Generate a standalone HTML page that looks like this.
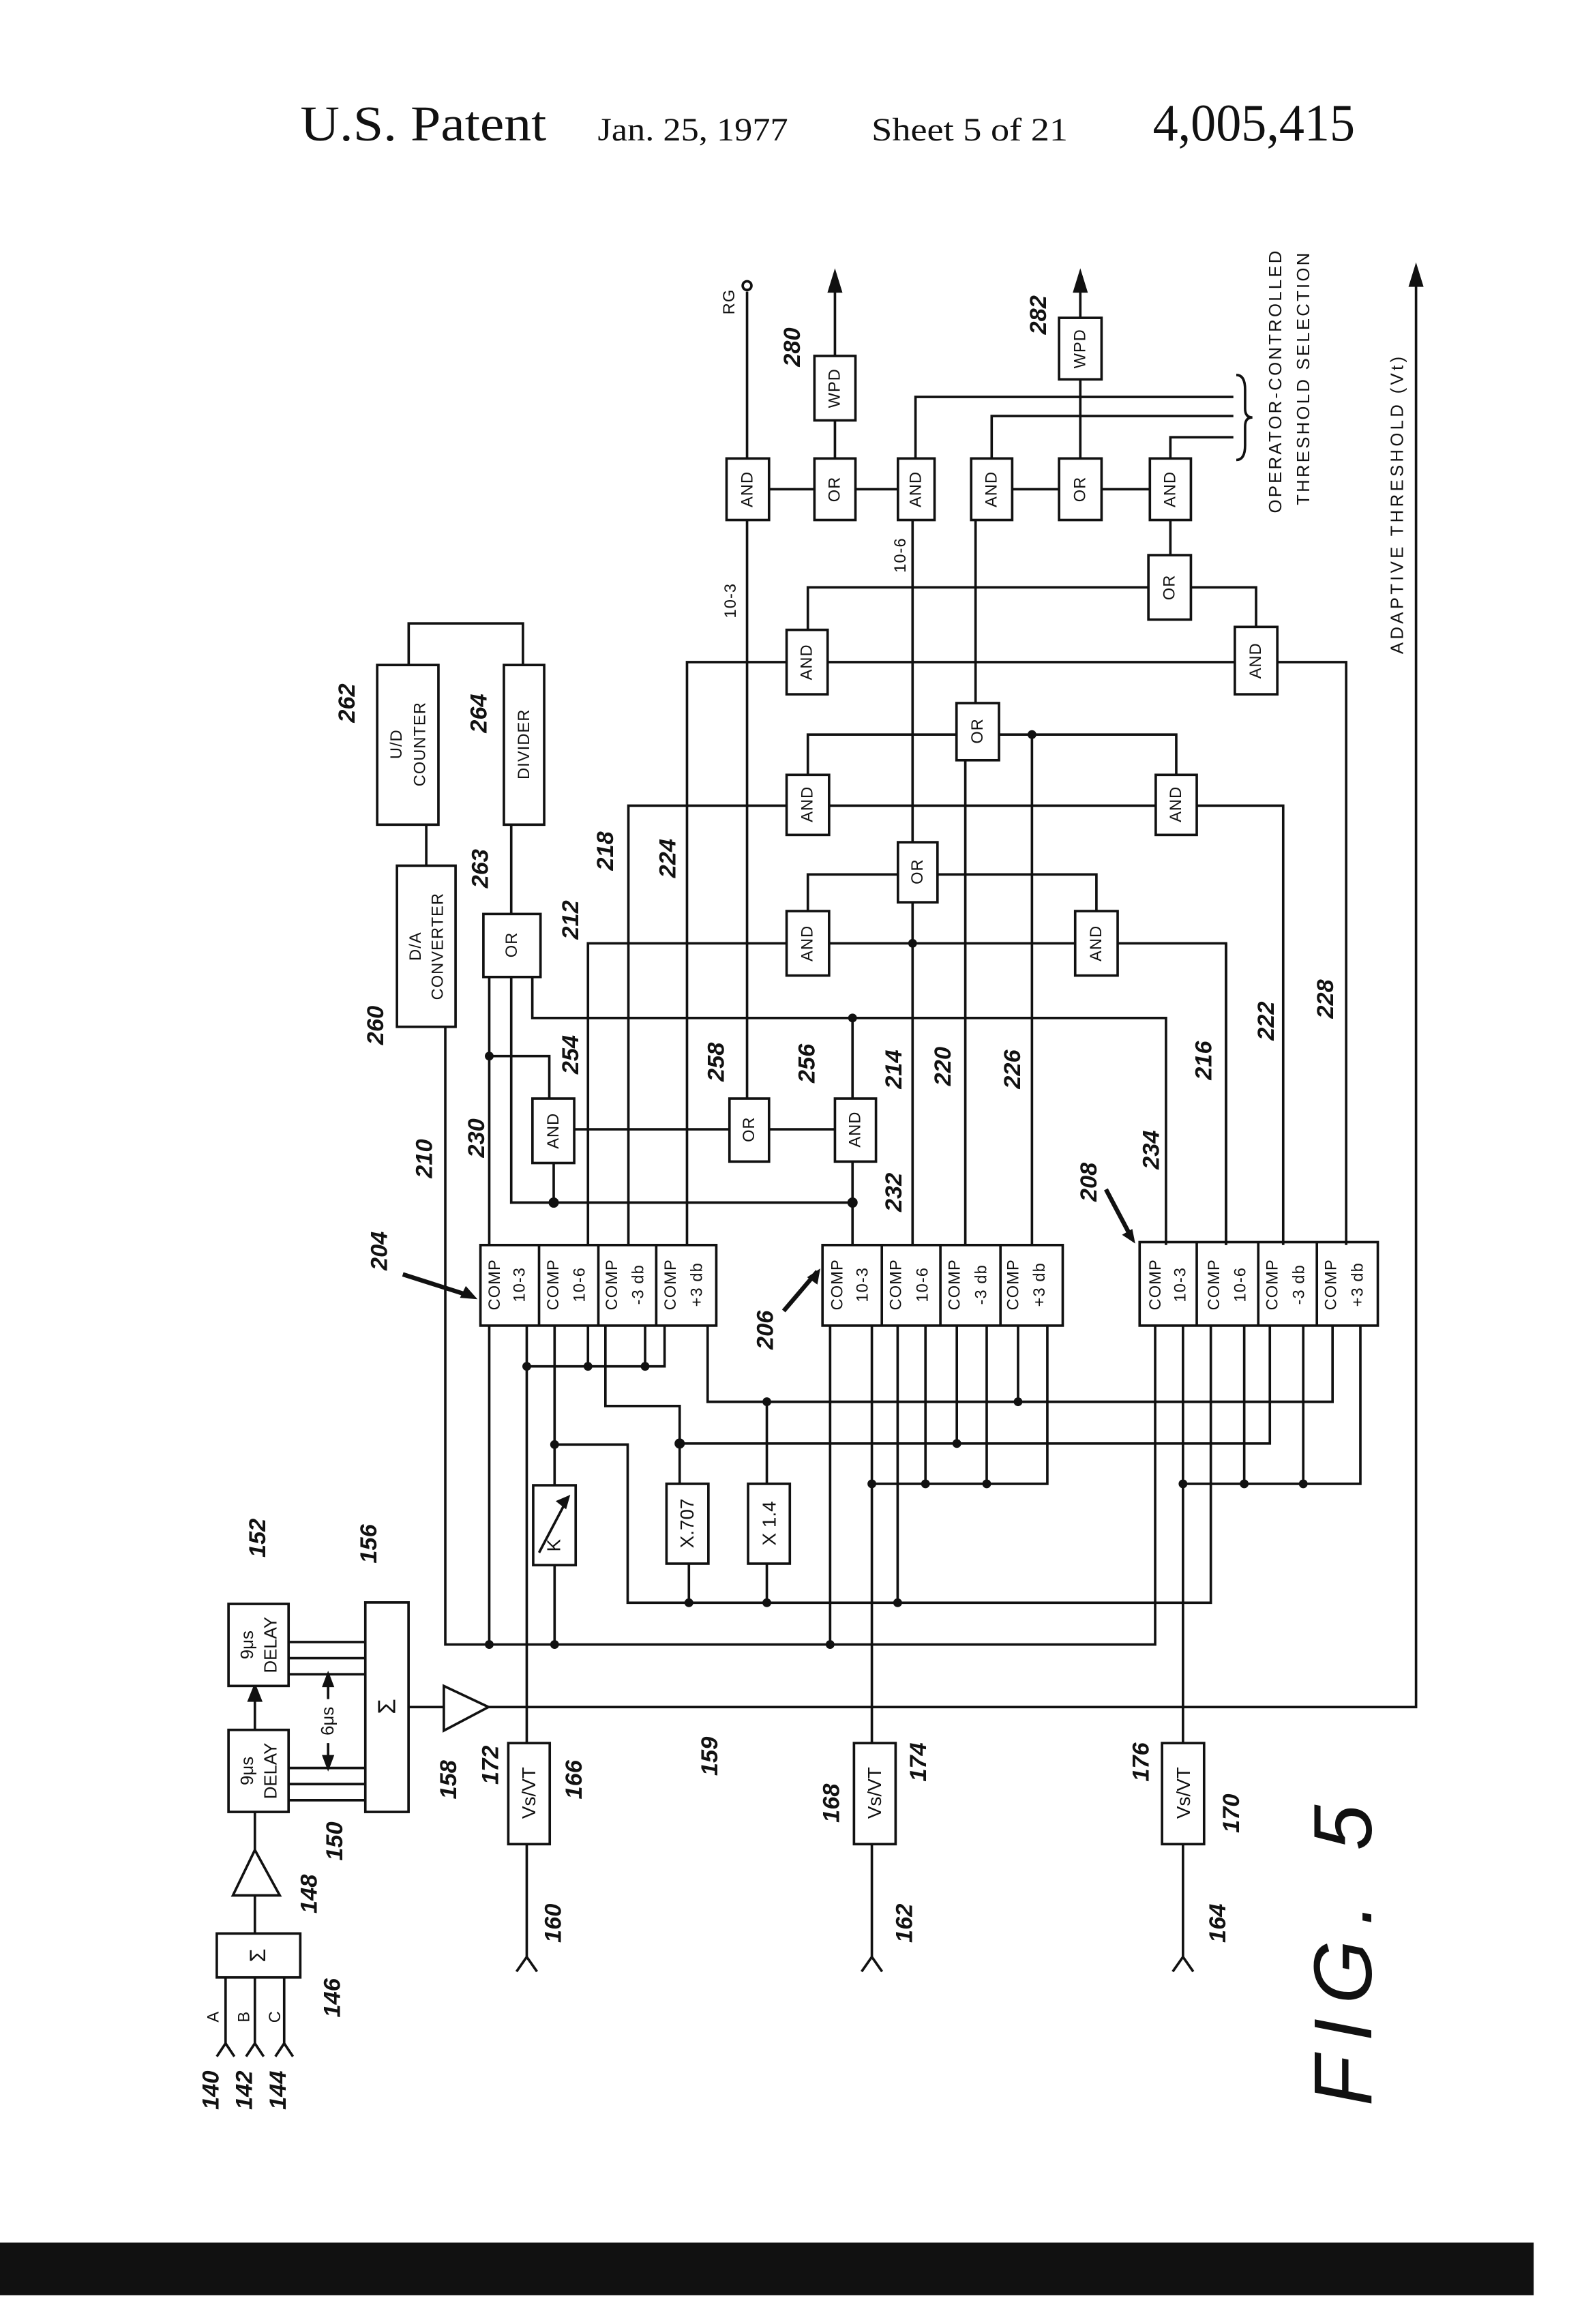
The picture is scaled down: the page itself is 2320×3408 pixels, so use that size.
<!DOCTYPE html>
<html><head><meta charset="utf-8"><style>
html,body{margin:0;padding:0;background:#fff;}
svg{display:block;}
text{font-family:"Liberation Sans",sans-serif;fill:#111;}
.s{font-family:"Liberation Serif",serif;}
</style></head><body>
<svg width="2320" height="3408" viewBox="0 0 1080 1586.6" preserveAspectRatio="none" xmlns="http://www.w3.org/2000/svg">
<g stroke="#111" stroke-width="1.7" fill="none">
<!-- inputs -->
<path d="M154 1350V1395M174 1350V1395M194 1350V1395"/>
<path d="M148 1404l6-9 6 9M168 1404l6-9 6 9M188 1404l6-9 6 9"/>
<rect x="148" y="1320" width="57" height="30" fill="#fff"/>
<path d="M174 1320V1294"/>
<polygon points="159,1294 191,1294 174,1263" fill="#fff"/>
<path d="M174 1263V1237"/>
<rect x="156" y="1181" width="41" height="56" fill="#fff"/>
<path d="M174 1181V1151"/>
<path d="M174 1151l-4 10h8z" fill="#111"/>
<rect x="156" y="1095" width="41" height="56" fill="#fff"/>
<path d="M197 1121H250M197 1132H250M197 1143H250M197 1207H250M197 1218H250M197 1229H250"/>
<path d="M224 1160V1143M224 1190V1207"/>
<path d="M224 1143l-3 8h6zM224 1207l-3 -8h6z" fill="#111"/>
<rect x="249.4" y="1094" width="29.5" height="143" fill="#fff"/>
<path d="M279 1165.4H303"/>
<polygon points="303,1151 303,1181.5 333.5,1165.4" fill="#fff"/>
<path d="M333.5 1165.4H966.7V192"/>
<path d="M966.7 182l-4 13h8z" fill="#111"/>
<!-- receivers -->
<path d="M359.6 905V1190M359.6 1259V1336M352.6 1346l7-10 7 10"/>
<rect x="347" y="1190" width="28.3" height="69" fill="#fff"/>
<path d="M595.2 905V1190M595.2 1259V1336M588.2 1346l7-10 7 10"/>
<rect x="583" y="1190" width="28.4" height="69" fill="#fff"/>
<path d="M807.6 905V1190M807.6 1259V1336M800.6 1346l7-10 7 10"/>
<rect x="793.3" y="1190" width="28.7" height="69" fill="#fff"/>
<!-- line 210 bus -->
<path d="M304 701V1122.7H788.6V905M334 905V1122.7M378.6 905V1122.7M566.7 905V1122.7"/>
<rect x="364" y="1014" width="29" height="54.5" fill="#fff"/>
<path d="M368 1060L388 1022"/>
<path d="M388 1022l-7 3 5 4z" fill="#111"/>
<!-- 1094 bus -->
<path d="M378.6 986.2H428.5V1094.2H826.6V905M612.8 905V1094.2M470.3 1067.5V1094.2M523.5 1067.5V1094.2"/>
<rect x="455" y="1013" width="28.6" height="54.5" fill="#fff"/>
<rect x="510.7" y="1013" width="28.5" height="54.5" fill="#fff"/>
<!-- 985 bus -->
<path d="M464 1013V985.5H866.9V905M413.3 905V959.9H464V985.5M653.2 905V985.5"/>
<!-- 957 bus -->
<path d="M483.1 905V957H909.7V905M523.5 1013V957M695 905V957"/>
<!-- 932 bus -->
<path d="M359.6 932.8H453.7V905M401.4 905V932.8M440.4 905V932.8"/>
<!-- 1013 buses -->
<path d="M595.2 1013H715V905M631.8 905V1013M673.6 905V1013M807.6 1013H928.7V905M849.4 905V1013M889.7 905V1013"/>
<!-- comp blocks -->
<rect x="328" y="850" width="161" height="55" fill="#fff"/>
<path d="M368 850V905M408.5 850V905M448 850V905"/>
<rect x="561.5" y="850" width="164" height="55" fill="#fff"/>
<path d="M602 850V905M642 850V905M683 850V905"/>
<rect x="778" y="848" width="162.6" height="57" fill="#fff"/>
<path d="M817 848V905M859 848V905M899 848V905"/>
<!-- upper left -->
<path d="M334 850V667M334 721H375V750M378 794V821M349 667V821H582M363.4 667V695H796V850M582 750V695M582 793V850"/>
<path d="M392 771H498M525 771H570M510 750V355M510 313V199"/>
<rect x="363.5" y="750" width="28.5" height="44" fill="#fff"/>
<rect x="498" y="750" width="27" height="43" fill="#fff"/>
<rect x="570" y="750" width="28" height="43" fill="#fff"/>
<rect x="330" y="624" width="39" height="43" fill="#fff"/>
<path d="M349 624V563M291 591V563M279 454V425.6H357V454"/>
<rect x="271" y="591" width="40" height="110" fill="#fff"/>
<rect x="257.5" y="454" width="41.8" height="109" fill="#fff"/>
<rect x="344" y="454" width="27.5" height="109" fill="#fff"/>
<!-- 212/218/224 -->
<path d="M401.4 850V644H837V850M429 850V550H876V850M469 850V452H919V850"/>
<path d="M623 850V616M659 850V519M704.5 850V501.5M837 850V644"/>
<path d="M551.5 622V597H613M640 597H748.5V622M551.5 529V501.5H653M682 501.5H803V529M551.5 430V401H784M813 401H857.5V428M799 379V355M623 575V355M666 480V355"/>
<rect x="537" y="622" width="29" height="44" fill="#fff"/>
<rect x="734" y="622" width="29" height="44" fill="#fff"/>
<rect x="613" y="575" width="27" height="41" fill="#fff"/>
<rect x="537" y="529" width="29" height="41" fill="#fff"/>
<rect x="789" y="529" width="28" height="41" fill="#fff"/>
<rect x="653" y="480" width="29" height="39" fill="#fff"/>
<rect x="537" y="430" width="28" height="44" fill="#fff"/>
<rect x="843" y="428" width="29" height="46" fill="#fff"/>
<rect x="784" y="379" width="29" height="44" fill="#fff"/>
<!-- top row -->
<path d="M525 334H556M584 334H613M691 334H723M752 334H785M570 313V287M570 243V195M737.5 313V259M737.5 217V195M625 313V271H842M677 313V284H842M799 313V298.5H842"/>
<path d="M570 186l-4 13h8zM737.5 186l-4 13h8z" fill="#111"/>
<rect x="496" y="313" width="29" height="42" fill="#fff"/>
<rect x="556" y="313" width="28" height="42" fill="#fff"/>
<rect x="613" y="313" width="25" height="42" fill="#fff"/>
<rect x="663" y="313" width="28" height="42" fill="#fff"/>
<rect x="723" y="313" width="29" height="42" fill="#fff"/>
<rect x="785" y="313" width="28" height="42" fill="#fff"/>
<rect x="556" y="243" width="28" height="44" fill="#fff"/>
<rect x="723" y="217" width="29" height="42" fill="#fff"/>
<circle cx="510" cy="195" r="3" fill="#fff"/>
<path d="M844 256q6 0 6 10v13q0 6 5 6q-5 0-5 6v13q0 10-6 10"/>
<!-- arrows 204/206/208 -->
<path d="M275 870L322 885M535 895L558 868M755 812L773 846" stroke-width="3"/>
</g>
<g fill="#111">
<path d="M326 887l-12 -1 4 -8z M560 866l-2 11 -7 -5z M775 849l-9 -6 7 -4z"/>
<circle cx="334" cy="1122.7" r="3"/><circle cx="378.6" cy="1122.7" r="3"/><circle cx="566.7" cy="1122.7" r="3"/>
<circle cx="378.6" cy="986.2" r="3"/><circle cx="470.3" cy="1094.2" r="3"/><circle cx="523.5" cy="1094.2" r="3"/><circle cx="612.8" cy="1094.2" r="3"/>
<circle cx="464" cy="985.5" r="3.5"/><circle cx="653.2" cy="985.5" r="3"/>
<circle cx="523.5" cy="957" r="3"/><circle cx="695" cy="957" r="3"/>
<circle cx="359.6" cy="932.8" r="3"/><circle cx="401.4" cy="932.8" r="3"/><circle cx="440.4" cy="932.8" r="3"/>
<circle cx="595.2" cy="1013" r="3"/><circle cx="631.8" cy="1013" r="3"/><circle cx="673.6" cy="1013" r="3"/>
<circle cx="807.6" cy="1013" r="3"/><circle cx="849.4" cy="1013" r="3"/><circle cx="889.7" cy="1013" r="3"/>
<circle cx="334" cy="721" r="3"/><circle cx="378" cy="821" r="3.5"/><circle cx="582" cy="821" r="3.5"/><circle cx="582" cy="695" r="3"/>
<circle cx="623" cy="644" r="3"/><circle cx="704.5" cy="501.5" r="3"/>
</g>
<!-- header -->
<text class="s" x="205" y="96" font-size="34" textLength="168" lengthAdjust="spacingAndGlyphs">U.S. Patent</text>
<text class="s" x="408" y="96" font-size="22" textLength="130" lengthAdjust="spacingAndGlyphs">Jan. 25, 1977</text>
<text class="s" x="595" y="96" font-size="22" textLength="134" lengthAdjust="spacingAndGlyphs">Sheet 5 of 21</text>
<text class="s" x="787" y="96" font-size="36" textLength="138" lengthAdjust="spacingAndGlyphs">4,005,415</text>
<rect x="0" y="1531" width="1047" height="36" fill="#111"/>
<g font-size="11" text-anchor="middle" dominant-baseline="central">
<text transform="translate(176,1335) rotate(-90)" font-size="15">Σ</text>
<text transform="translate(146,1377) rotate(-90)">A</text><text transform="translate(167,1377) rotate(-90)">B</text><text transform="translate(188,1377) rotate(-90)">C</text>
<text transform="translate(169,1209) rotate(-90)" font-size="12">9μs</text><text transform="translate(185,1209) rotate(-90)" font-size="12">DELAY</text>
<text transform="translate(169,1123) rotate(-90)" font-size="12">9μs</text><text transform="translate(185,1123) rotate(-90)" font-size="12">DELAY</text>
<text transform="translate(264,1165) rotate(-90)" font-size="17">Σ</text>
<text transform="translate(224,1175) rotate(-90)" font-size="12">6μs</text>
<text transform="translate(361,1224) rotate(-90)" font-size="13">Vs/VT</text>
<text transform="translate(597,1224) rotate(-90)" font-size="13">Vs/VT</text>
<text transform="translate(808,1224) rotate(-90)" font-size="13">Vs/VT</text>
<text transform="translate(378,1055) rotate(-90)" font-size="13">K</text>
<text transform="translate(469,1040) rotate(-90)" font-size="13">X.707</text>
<text transform="translate(525,1040) rotate(-90)" font-size="13">X 1.4</text>
</g>
<g font-size="11" text-anchor="middle" dominant-baseline="central" letter-spacing="0.5">
<g id="cb">
<text transform="translate(338,877) rotate(-90)">COMP</text><text transform="translate(355,877) rotate(-90)">10-3</text>
<text transform="translate(378,877) rotate(-90)">COMP</text><text transform="translate(396,877) rotate(-90)">10-6</text>
<text transform="translate(418,877) rotate(-90)">COMP</text><text transform="translate(436,877) rotate(-90)">-3 db</text>
<text transform="translate(458,877) rotate(-90)">COMP</text><text transform="translate(476,877) rotate(-90)">+3 db</text>
</g>
<use href="#cb" x="234"/><use href="#cb" x="451"/>
<text transform="translate(378,772) rotate(-90)">AND</text>
<text transform="translate(511.5,771) rotate(-90)">OR</text>
<text transform="translate(584,771) rotate(-90)">AND</text>
<text transform="translate(349.5,645) rotate(-90)">OR</text>
<text transform="translate(284,646) rotate(-90)">D/A</text><text transform="translate(299,646) rotate(-90)">CONVERTER</text>
<text transform="translate(271,508) rotate(-90)">U/D</text><text transform="translate(287,508) rotate(-90)">COUNTER</text>
<text transform="translate(358,508) rotate(-90)">DIVIDER</text>
<text transform="translate(551.5,644) rotate(-90)">AND</text>
<text transform="translate(748.5,644) rotate(-90)">AND</text>
<text transform="translate(626.5,595) rotate(-90)">OR</text>
<text transform="translate(551.5,549) rotate(-90)">AND</text>
<text transform="translate(803,549) rotate(-90)">AND</text>
<text transform="translate(667.5,499) rotate(-90)">OR</text>
<text transform="translate(551,452) rotate(-90)">AND</text>
<text transform="translate(857.5,451) rotate(-90)">AND</text>
<text transform="translate(798.5,401) rotate(-90)">OR</text>
<text transform="translate(510.5,334) rotate(-90)">AND</text>
<text transform="translate(570,334) rotate(-90)">OR</text>
<text transform="translate(625.5,334) rotate(-90)">AND</text>
<text transform="translate(677,334) rotate(-90)">AND</text>
<text transform="translate(737.5,334) rotate(-90)">OR</text>
<text transform="translate(799,334) rotate(-90)">AND</text>
<text transform="translate(570,265) rotate(-90)">WPD</text>
<text transform="translate(737.5,238) rotate(-90)">WPD</text>
<text transform="translate(499,410) rotate(-90)">10-3</text>
<text transform="translate(615,379) rotate(-90)">10-6</text>
<text transform="translate(498,206) rotate(-90)">RG</text>
<text transform="translate(871,260) rotate(-90)" font-size="12" letter-spacing="1.5">OPERATOR-CONTROLLED</text>
<text transform="translate(890,258) rotate(-90)" font-size="12" letter-spacing="1.5">THRESHOLD SELECTION</text>
<text transform="translate(954,344) rotate(-90)" font-size="12" letter-spacing="2">ADAPTIVE THRESHOLD (Vt)</text>
</g>
<g font-size="16" font-style="italic" font-weight="bold" text-anchor="middle" dominant-baseline="central">
<text transform="translate(144,1427) rotate(-90)">140</text><text transform="translate(167,1427) rotate(-90)">142</text><text transform="translate(190,1427) rotate(-90)">144</text>
<text transform="translate(227,1364) rotate(-90)">146</text><text transform="translate(211,1293) rotate(-90)">148</text>
<text transform="translate(228.6,1257) rotate(-90)">150</text><text transform="translate(176,1050) rotate(-90)">152</text>
<text transform="translate(251.8,1054) rotate(-90)">156</text><text transform="translate(306.4,1215) rotate(-90)">158</text>
<text transform="translate(335,1205) rotate(-90)">172</text><text transform="translate(392,1215) rotate(-90)">166</text>
<text transform="translate(377.7,1313) rotate(-90)">160</text><text transform="translate(484.5,1199) rotate(-90)">159</text>
<text transform="translate(567.7,1231) rotate(-90)">168</text><text transform="translate(627,1203) rotate(-90)">174</text>
<text transform="translate(617.6,1313) rotate(-90)">162</text>
<text transform="translate(779,1203) rotate(-90)">176</text><text transform="translate(840.8,1238) rotate(-90)">170</text>
<text transform="translate(831.3,1313) rotate(-90)">164</text>
<text transform="translate(259,854) rotate(-90)">204</text><text transform="translate(522.5,908) rotate(-90)">206</text>
<text transform="translate(743.5,807) rotate(-90)">208</text>
<text transform="translate(256.6,700) rotate(-90)">260</text><text transform="translate(237,480) rotate(-90)">262</text>
<text transform="translate(328,593) rotate(-90)">263</text><text transform="translate(327,487) rotate(-90)">264</text>
<text transform="translate(289.8,791) rotate(-90)">210</text><text transform="translate(325.4,777) rotate(-90)">230</text>
<text transform="translate(389.6,720) rotate(-90)">254</text><text transform="translate(389.6,628) rotate(-90)">212</text>
<text transform="translate(413.3,581) rotate(-90)">218</text><text transform="translate(456,586) rotate(-90)">224</text>
<text transform="translate(489,725) rotate(-90)">258</text><text transform="translate(551,726) rotate(-90)">256</text>
<text transform="translate(610.4,814) rotate(-90)">232</text><text transform="translate(610.4,730) rotate(-90)">214</text>
<text transform="translate(643.7,728) rotate(-90)">220</text><text transform="translate(691.2,730) rotate(-90)">226</text>
<text transform="translate(786,785) rotate(-90)">234</text><text transform="translate(821.8,724) rotate(-90)">216</text>
<text transform="translate(864.5,697) rotate(-90)">222</text><text transform="translate(905,682) rotate(-90)">228</text>
<text transform="translate(541,237) rotate(-90)">280</text><text transform="translate(709,215) rotate(-90)">282</text>
<text transform="translate(917,1330) rotate(-90)" font-size="56" font-weight="normal" letter-spacing="10">FIG. 5</text>
</g>
</svg>
</body></html>
